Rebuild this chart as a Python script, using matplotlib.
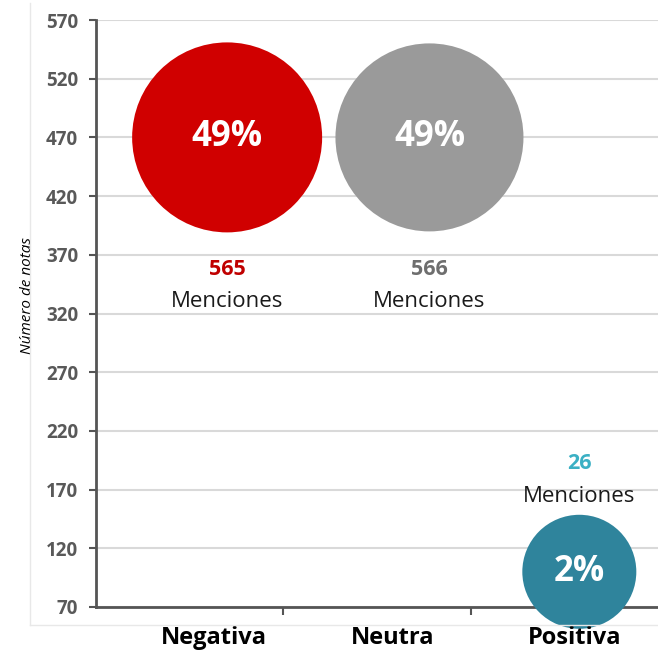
import numpy as np
import matplotlib
matplotlib.use("Agg")
from matplotlib import pyplot as plt
from matplotlib.lines import Line2D

plt.rcParams['font.family'] = ['Open Sans', 'DejaVu Sans']

categorias = ['Negativa', 'Neutra', 'Positiva']
menciones = [565, 566, 26]
porcentajes = ['49%', '49%', '2%']
pos_x = [0.70, 1.78, 2.58]
notas = [470, 470, 100]
yticks = np.arange(70, 571, 50)

colores = ['#d00000', '#9a9a9a', '#2f849c']
colores_num = ['#c00000', '#6e6e6e', '#3bb0c4']
diam_px = [190, 188, 114]

fig = plt.figure(figsize=(6.58, 6.54), dpi=100)
ax = fig.add_axes([96/658, 47/654, 1 - 96/658, 587/654])

ax.set_xlim(0, 3)
ax.set_ylim(70, 570)
ax.set_yticks(yticks)
ax.set_xticks([1, 2])
ax.set_xticklabels([])
ax.grid(axis='y', color='#d9d9d9', lw=1.5)
ax.set_axisbelow(True)
for s in ['top', 'right']:
    ax.spines[s].set_visible(False)
for s in ['left', 'bottom']:
    ax.spines[s].set_color('#555555')
    ax.spines[s].set_linewidth(2)
ax.tick_params(axis='y', length=5, width=1.5, color='#555555',
               labelcolor='#595959', labelsize=13.5, pad=8)
ax.tick_params(axis='x', length=6, width=1.5, color='#555555')
for t in ax.get_yticklabels():
    t.set_fontweight('bold')

sizes = [(d * 72 / 100) ** 2 for d in diam_px]
ax.scatter(pos_x, notas, s=sizes, c=colores, zorder=5, clip_on=False,
           edgecolors='none')

for i in range(3):
    ax.text(pos_x[i], notas[i], porcentajes[i], ha='center', va='center',
            color='white', fontsize=25, fontweight='bold', zorder=6)
    if notas[i] > 300:
        off_num, off_men = -95, -118
    else:
        off_num, off_men = 78, 54
    ax.annotate(str(menciones[i]), (pos_x[i], notas[i]), xytext=(0, off_num),
                textcoords='offset points', ha='center', va='center',
                color=colores_num[i], fontsize=15.5, fontweight='bold')
    ax.annotate('Menciones', (pos_x[i], notas[i]), xytext=(0, off_men),
                textcoords='offset points', ha='center', va='center',
                color='#1a1a1a', fontsize=16)

cat_x = [0.63, 1.586, 2.557]
for cx, cat in zip(cat_x, categorias):
    ax.text(cx, -0.053, cat, transform=ax.get_xaxis_transform(),
            ha='center', va='center', fontsize=17, fontweight='bold',
            color='black', zorder=7)

ax.set_ylabel('Número de notas', fontsize=11, style='italic', color='black')
ax.yaxis.set_label_coords(-0.108, 0.53)

# marco tenue del grafico
fig.add_artist(Line2D([30/658, 30/658], [1 - 3/654, 1 - 625/654],
                      color='#e8e8e8', lw=1))
fig.add_artist(Line2D([30/658, 1], [1 - 625/654, 1 - 625/654],
                      color='#e8e8e8', lw=1))

fig.savefig('out.png', dpi=100)
